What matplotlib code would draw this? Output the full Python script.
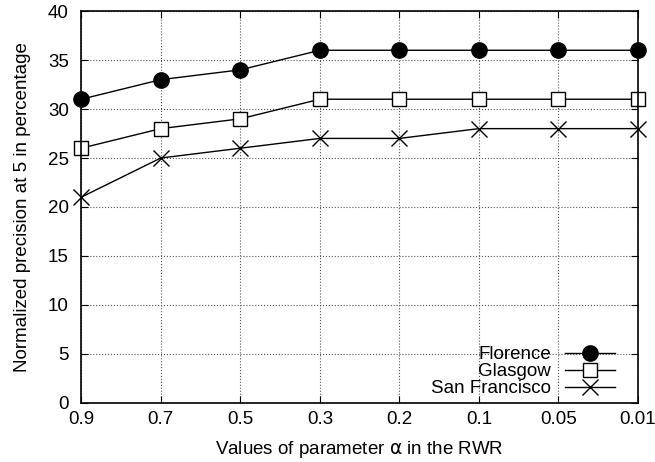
import matplotlib
matplotlib.use('Agg')
import matplotlib.pyplot as plt

plt.rcParams['font.family'] = ['Liberation Sans', 'DejaVu Sans']

alpha_labels = ['0.9', '0.7', '0.5', '0.3', '0.2', '0.1', '0.05', '0.01']
florence = [31, 33, 34, 36, 36, 36, 36, 36]
glasgow = [26, 28, 29, 31, 31, 31, 31, 31]
san_francisco = [21, 25, 26, 27, 27, 28, 28, 28]

x = list(range(len(alpha_labels)))

fig = plt.figure(figsize=(6.55, 4.62), dpi=100)
ax = fig.add_axes([0.124, 0.128, 0.850, 0.848])

ax.plot(x, florence, color='black', lw=1, marker='o', markersize=11,
        markerfacecolor='black', label='Florence', clip_on=False, zorder=3)
ax.plot(x, glasgow, color='black', lw=1, marker='s', markersize=10,
        markerfacecolor='white', markeredgewidth=1, label='Glasgow',
        clip_on=False, zorder=3)
ax.plot(x, san_francisco, color='black', lw=1, marker='x', markersize=11,
        markeredgewidth=1, label='San Francisco', clip_on=False, zorder=3)

ax.set_xlim(0, 7)
ax.set_ylim(0, 40)
ax.set_xticks(x)
ax.set_xticklabels(alpha_labels)
ax.set_yticks(range(0, 41, 5))
ax.tick_params(direction='in', top=True, right=True, labelsize=13.5, length=5)
ax.tick_params(axis='x', pad=6)
ax.tick_params(axis='y', pad=9)
ax.grid(True, linestyle=':', color='#555555', linewidth=0.8)
for s in ax.spines.values():
    s.set_linewidth(1.2)
    s.set_zorder(4)

ax.set_xlabel(r'Values of parameter $\mathrm{\alpha}$ in the RWR', fontsize=13.5, labelpad=8)
ax.set_ylabel('Normalized precision at 5 in percentage', fontsize=13.5, labelpad=12)

leg = ax.legend(loc='lower right', bbox_to_anchor=(0.972, -0.005), markerfirst=False,
                frameon=False, fontsize=13.5, handlelength=2.67, handletextpad=0.75,
                labelspacing=0.0, borderaxespad=0.0)
for t in leg.get_texts():
    t.set_ha('right')

fig.savefig('out.png', dpi=100)
